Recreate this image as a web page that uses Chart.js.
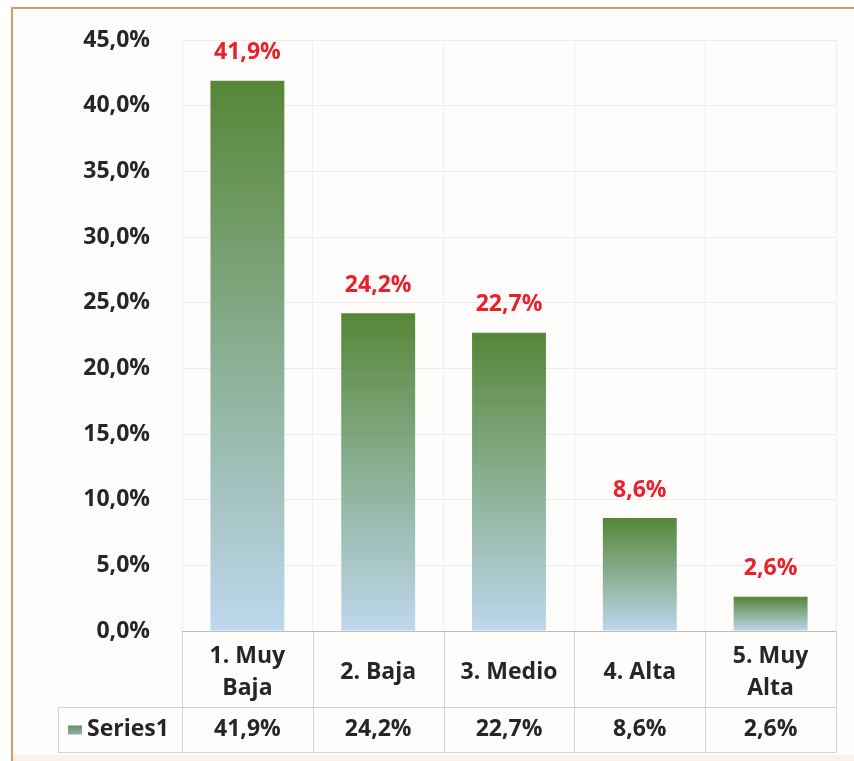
<!DOCTYPE html>
<html><head><meta charset="utf-8">
<script src="https://cdn.jsdelivr.net/npm/chart.js@4/dist/chart.umd.min.js"></script>
<style>
html,body{margin:0;padding:0;background:#fff;}
#wrap{position:relative;width:854px;height:761px;overflow:hidden;background:#fff;}
#frame{position:absolute;left:11px;top:7px;right:0;bottom:0;border-top:2px solid #d39a66;border-left:2px solid #d39a66;background:#fffdfb;}
#bottomStrip{position:absolute;left:13px;right:0;top:755px;bottom:0;background:#fcf1e6;}
canvas{position:absolute;left:0;top:0;}
</style></head>
<body><div id="wrap"><div id="frame"></div><div id="bottomStrip"></div><canvas id="c" width="854" height="761"></canvas></div>
<script>
// ---- data ----
const categories = [["1. Muy", "Baja"], "2. Baja", "3. Medio", "4. Alta", ["5. Muy", "Alta"]];
const seriesName = "Series1";
const values = [41.9, 24.2, 22.7, 8.6, 2.6];
const yMin = 0, yMax = 45, yStep = 5;

// ---- helpers ----
const FONT = "'Open Sans', 'DejaVu Sans', sans-serif";
const fmt = v => v.toFixed(1).replace('.', ',') + '%';
const GREEN = '#558737', BLUE = '#bed7ee';

function barGradient(ctx) {
  const chart = ctx.chart;
  if (!chart.chartArea || ctx.dataIndex === undefined) return GREEN;
  const y = chart.scales.y;
  const top = y.getPixelForValue(values[ctx.dataIndex]);
  const bottom = y.getPixelForValue(0);
  const g = chart.ctx.createLinearGradient(0, top, 0, bottom);
  g.addColorStop(0, GREEN);
  g.addColorStop(1, BLUE);
  return g;
}

const labelsPlugin = {
  id: 'valueLabels',
  afterDatasetsDraw(chart) {
    const ctx = chart.ctx;
    const meta = chart.getDatasetMeta(0);
    ctx.save();
    ctx.font = `bold 23px ${FONT}`;
    ctx.fillStyle = '#e8222c';
    ctx.textAlign = 'center';
    ctx.textBaseline = 'middle';
    meta.data.forEach((bar, i) => {
      ctx.fillText(fmt(values[i]), bar.x, bar.y - 28);
    });
    ctx.restore();
  }
};

const tablePlugin = {
  id: 'dataTable',
  afterDraw(chart) {
    const ctx = chart.ctx;
    const a = chart.chartArea;
    const x = chart.scales.x;
    const n = values.length;
    const headTop = a.bottom;
    const headBottom = x.bottom;
    const rowBottom = headBottom + 45;
    const tableLeft = 58;
    const bounds = [a.left];
    for (let i = 1; i < n; i++) bounds.push((x.getPixelForValue(i - 1) + x.getPixelForValue(i)) / 2);
    bounds.push(a.right);
    ctx.save();
    ctx.lineWidth = 1;
    ctx.strokeStyle = '#d2d2d2';
    ctx.beginPath();
    bounds.forEach(b => { const bx = Math.round(b) + 0.5; ctx.moveTo(bx, headTop); ctx.lineTo(bx, rowBottom); });
    ctx.moveTo(tableLeft + 0.5, headBottom); ctx.lineTo(tableLeft + 0.5, rowBottom);
    ctx.moveTo(tableLeft, Math.round(headBottom) + 0.5); ctx.lineTo(a.right, Math.round(headBottom) + 0.5);
    ctx.moveTo(tableLeft, Math.round(rowBottom) + 0.5); ctx.lineTo(a.right, Math.round(rowBottom) + 0.5);
    ctx.stroke();
    ctx.strokeStyle = '#bdbdbd';
    ctx.beginPath();
    ctx.moveTo(a.left, Math.round(headTop) + 0.5); ctx.lineTo(a.right, Math.round(headTop) + 0.5);
    ctx.stroke();
    // legend key
    const rowMid = (headBottom + rowBottom) / 2;
    const kg = ctx.createLinearGradient(0, rowMid - 5, 0, rowMid + 5);
    kg.addColorStop(0, '#5f8f5c'); kg.addColorStop(1, '#8fb1b4');
    ctx.fillStyle = kg;
    ctx.fillRect(68, rowMid - 4, 14, 9);
    ctx.font = `bold 23px ${FONT}`;
    ctx.fillStyle = '#262626';
    ctx.textBaseline = 'middle';
    ctx.textAlign = 'left';
    ctx.fillText(seriesName, 87, rowMid);
    ctx.textAlign = 'center';
    values.forEach((v, i) => ctx.fillText(fmt(v), x.getPixelForValue(i), rowMid));
    ctx.restore();
  }
};

new Chart(document.getElementById('c'), {
  type: 'bar',
  data: {
    labels: categories,
    datasets: [{
      label: seriesName,
      data: values,
      backgroundColor: barGradient,
      borderWidth: 0,
      barPercentage: 1,
      categoryPercentage: 0.565
    }]
  },
  options: {
    responsive: false,
    animation: false,
    devicePixelRatio: 1,
    layout: { padding: { left: 0, top: 40, right: 18, bottom: 54 } },
    plugins: { legend: { display: false }, tooltip: { enabled: false } },
    scales: {
      y: {
        min: yMin, max: yMax,
        afterFit: s => { s.width = 182; },
        ticks: {
          stepSize: yStep,
          padding: 6,
          color: '#262626',
          font: { family: FONT, size: 23, weight: 'bold' },
          callback: v => fmt(v)
        },
        grid: { color: '#ececec', drawTicks: true, tickLength: 26, tickColor: 'rgba(0,0,0,0)' },
        border: { display: false }
      },
      x: {
        afterFit: s => { s.height = 76; },
        ticks: {
          padding: 25,
          crossAlign: 'center',
          maxRotation: 0,
          autoSkip: false,
          color: '#262626',
          font: { family: FONT, size: 23, weight: 'bold', lineHeight: 1.39 }
        },
        grid: { color: '#eeeeee', drawTicks: false, offset: true },
        border: { display: false }
      }
    }
  },
  plugins: [labelsPlugin, tablePlugin]
});
</script>
</body></html>
